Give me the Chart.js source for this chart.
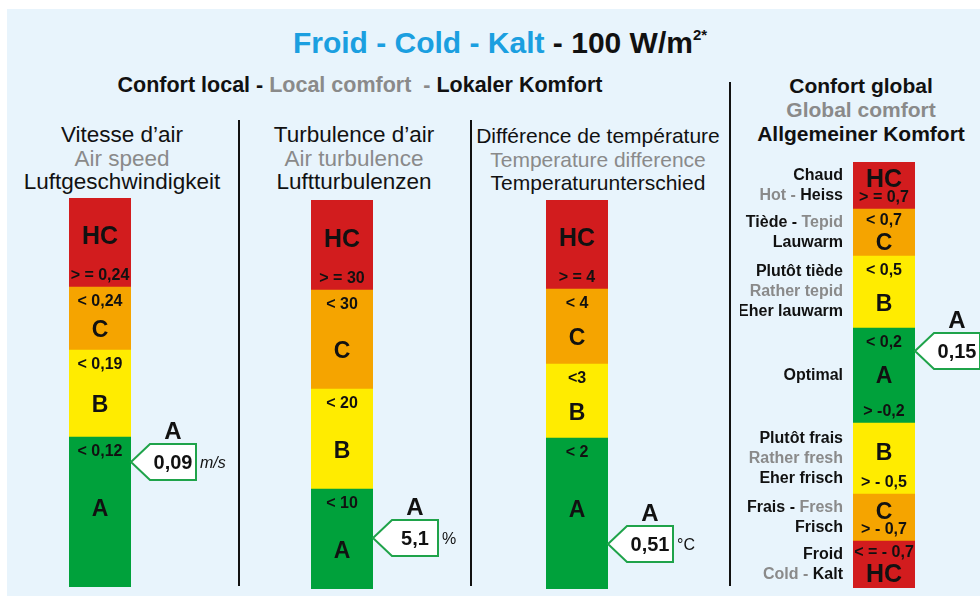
<!DOCTYPE html>
<html>
<head>
<meta charset="utf-8">
<script src="https://cdn.jsdelivr.net/npm/chart.js@4.4.0/dist/chart.umd.min.js"></script>
<style>
  body { margin: 0; width: 980px; height: 596px; background: #fff; position: relative; overflow: hidden;
         font-family: "Liberation Sans", Arial, sans-serif; }
  #panel { position: absolute; left: 7px; top: 9px; width: 973px; height: 587px; background: #e8f4fc; }
  .t { position: absolute; white-space: nowrap; text-align: center; line-height: 1; color: #111; }
  .g { color: #8a8a8a; }
  .b { font-weight: bold; }
  .vl { position: absolute; width: 2px; background: #111; }
  canvas { position: absolute; }
</style>
</head>
<body>
<div id="panel"></div>

<!-- titles -->
<div class="t b" style="left:200px;width:600px;top:28px;font-size:30px;"><span style="color:#1b9fe0">Froid - Cold - Kalt</span> - 100 W/m<span style="font-size:15px;position:relative;top:-13px">2*</span></div>
<div class="t b" style="left:110px;width:500px;top:75px;font-size:21.5px;">Confort local - <span class="g">Local comfort</span>&nbsp; <span class="g">-</span> Lokaler Komfort</div>

<div class="t" style="left:-28px;width:300px;top:124px;font-size:22.5px;">Vitesse d’air</div>
<div class="t g" style="left:-28px;width:300px;top:148px;font-size:22.5px;">Air speed</div>
<div class="t" style="left:-28px;width:300px;top:171px;font-size:22.5px;">Luftgeschwindigkeit</div>

<div class="t" style="left:204px;width:300px;top:124px;font-size:22.5px;">Turbulence d’air</div>
<div class="t g" style="left:204px;width:300px;top:148px;font-size:22.5px;">Air turbulence</div>
<div class="t" style="left:204px;width:300px;top:171px;font-size:22.5px;">Luftturbulenzen</div>

<div class="t" style="left:448px;width:300px;top:125px;font-size:21px;">Différence de température</div>
<div class="t g" style="left:448px;width:300px;top:149px;font-size:21px;">Temperature difference</div>
<div class="t" style="left:448px;width:300px;top:172px;font-size:21px;">Temperaturunterschied</div>

<div class="t b" style="left:711px;width:300px;top:75px;font-size:21px;">Confort global</div>
<div class="t b g" style="left:711px;width:300px;top:99px;font-size:21px;">Global comfort</div>
<div class="t b" style="left:711px;width:300px;top:123px;font-size:21px;">Allgemeiner Komfort</div>

<div class="vl" style="left:238px;top:120px;height:466px;"></div>
<div class="vl" style="left:470px;top:120px;height:466px;"></div>
<div class="vl" style="left:729px;top:82px;height:504px;"></div>

<canvas id="speed" width="170" height="389" style="left:69px;top:198px;"></canvas>
<canvas id="turb" width="160" height="389" style="left:311px;top:200px;"></canvas>
<canvas id="temp" width="180" height="389" style="left:546px;top:200px;"></canvas>
<canvas id="global" width="240" height="426" style="left:740px;top:162px;"></canvas>

<script>
// band sizes are listed from the bottom of each bar to the top
const speedBands = [150, 87, 63, 89];
const speedClasses = ['A', 'B', 'C', 'HC'];
const speedTop = ['< 0,12', '< 0,19', '< 0,24', ''];
const speedBottom = ['', '', '', '> = 0,24'];

const turbBands = [100, 100, 99, 90];
const turbClasses = ['A', 'B', 'C', 'HC'];
const turbTop = ['< 10', '< 20', '< 30', ''];
const turbBottom = ['', '', '', '> = 30'];

const tempBands = [151, 74, 75, 89];
const tempClasses = ['A', 'B', 'C', 'HC'];
const tempTop = ['< 2', '<3', '< 4', ''];
const tempBottom = ['', '', '', '> = 4'];

const globalBands = [47, 47, 71, 95, 72, 47, 47];
const globalClasses = ['HC', 'C', 'B', 'A', 'B', 'C', 'HC'];
const globalTop = ['< = - 0,7', '', '', '< 0,2', '< 0,5', '< 0,7', ''];
const globalBottom = ['', '> - 0,7', '> - 0,5', '> -0,2', '', '', '> = 0,7'];
// [text, grey?] parts per line
const globalNames = [
  [[['Froid', 0]], [['Cold - ', 1], ['Kalt', 0]]],
  [[['Frais - ', 0], ['Fresh', 1]], [['Frisch', 0]]],
  [[['Plutôt frais', 0]], [['Rather fresh', 1]], [['Eher frisch', 0]]],
  [[['Optimal', 0]]],
  [[['Plutôt tiède', 0]], [['Rather tepid', 1]], [['Eher lauwarm', 0]]],
  [[['Tiède - ', 0], ['Tepid', 1]], [['Lauwarm', 0]]],
  [[['Chaud', 0]], [['Hot - ', 1], ['Heiss', 0]]]
];

// measured values, on the same band scale
const measuredPos = [125, 51, 45, 237];
const measuredText = ['0,09', '5,1', '0,51', '0,15'];
const measuredClass = ['A', 'A', 'A', 'A'];
const measuredUnit = ['m/s', '%', '°C', ''];

const COLORS = { HC: '#d21c1e', C: '#f5a400', B: '#ffec00', A: '#00a13b' };
const FONT = '"Liberation Sans", Arial, sans-serif';

function bandPlugin(cfg) {
  return {
    id: 'bandLabels',
    afterDatasetsDraw(chart) {
      const ctx = chart.ctx;
      const area = chart.chartArea;
      ctx.save();
      ctx.textAlign = 'center';
      ctx.textBaseline = 'middle';
      ctx.fillStyle = '#111';
      cfg.bands.forEach((v, i) => {
        const bar = chart.getDatasetMeta(i).data[0];
        const top = bar.y, bottom = bar.base, h = bottom - top;
        let a = top + 12, b = bottom;
        ctx.font = 'bold 16px ' + FONT;
        if (cfg.top[i]) {
          const off = Math.min(15, h * 0.25);
          ctx.fillText(cfg.top[i], bar.x, top + off);
          a = top + off + 10;
        }
        if (cfg.bottom[i]) {
          ctx.fillText(cfg.bottom[i], bar.x, bottom - 11);
          b = bottom - 22;
        }
        const cls = cfg.classes[i];
        ctx.font = 'bold ' + (cls === 'HC' ? 25 : 23) + 'px ' + FONT;
        ctx.fillText(cls, bar.x, a + Math.min((b - a) / 2, 48));

        if (cfg.names) {
          const lines = cfg.names[i];
          const mid = (top + bottom) / 2;
          ctx.font = 'bold 16px ' + FONT;
          ctx.textAlign = 'left';
          lines.forEach((parts, j) => {
            const y = mid + (j - (lines.length - 1) / 2) * 20;
            const w = parts.reduce((s, p) => s + ctx.measureText(p[0]).width, 0);
            let x = area.left - 10 - w;
            parts.forEach(p => {
              ctx.fillStyle = p[1] ? '#8a8a8a' : '#111';
              ctx.fillText(p[0], x, y);
              x += ctx.measureText(p[0]).width;
            });
          });
          ctx.textAlign = 'center';
          ctx.fillStyle = '#111';
        }
      });

      // measured value callout
      const k = cfg.idx;
      const ty = chart.scales.y.getPixelForValue(measuredPos[k]);
      const tx = area.right;
      const bx = tx + 19, bw = 46, bh = 36;
      ctx.beginPath();
      ctx.moveTo(tx, ty);
      ctx.lineTo(bx, ty - bh / 2);
      ctx.lineTo(bx + bw, ty - bh / 2);
      ctx.lineTo(bx + bw, ty + bh / 2);
      ctx.lineTo(bx, ty + bh / 2);
      ctx.closePath();
      ctx.fillStyle = '#fff';
      ctx.fill();
      ctx.strokeStyle = '#1fa34a';
      ctx.lineWidth = 2;
      ctx.stroke();
      ctx.fillStyle = '#111';
      ctx.font = 'bold 20px ' + FONT;
      ctx.fillText(measuredText[k], bx + bw / 2, ty + 1);
      ctx.font = 'bold 24px ' + FONT;
      ctx.fillText(measuredClass[k], bx + bw / 2, ty - bh / 2 - 12);
      if (measuredUnit[k]) {
        ctx.textAlign = 'left';
        ctx.font = (k === 0 ? 'italic ' : '') + '16px ' + FONT;
        ctx.fillText(measuredUnit[k], bx + bw + 4, ty + 2);
      }
      ctx.restore();
    }
  };
}

function makeBar(id, cfg, padding) {
  const ctx = document.getElementById(id).getContext('2d');
  return new Chart(ctx, {
    type: 'bar',
    data: {
      labels: [''],
      datasets: cfg.bands.map((v, i) => ({
        data: [v],
        backgroundColor: COLORS[cfg.classes[i]],
        borderWidth: 0,
        barPercentage: 1,
        categoryPercentage: 1
      }))
    },
    options: {
      responsive: false,
      animation: false,
      devicePixelRatio: 1,
      layout: { padding: padding },
      plugins: { legend: { display: false }, tooltip: { enabled: false } },
      scales: {
        x: { display: false, stacked: true },
        y: { display: false, stacked: true, min: 0, max: cfg.bands.reduce((s, v) => s + v, 0) }
      }
    },
    plugins: [bandPlugin(cfg)]
  });
}

makeBar('speed', { idx: 0, bands: speedBands, classes: speedClasses, top: speedTop, bottom: speedBottom },
  { left: 0, right: 108, top: 0, bottom: 0 });
makeBar('turb', { idx: 1, bands: turbBands, classes: turbClasses, top: turbTop, bottom: turbBottom },
  { left: 0, right: 98, top: 0, bottom: 0 });
makeBar('temp', { idx: 2, bands: tempBands, classes: tempClasses, top: tempTop, bottom: tempBottom },
  { left: 0, right: 118, top: 0, bottom: 0 });
makeBar('global', { idx: 3, bands: globalBands, classes: globalClasses, top: globalTop, bottom: globalBottom, names: globalNames },
  { left: 113, right: 65, top: 0, bottom: 0 });
</script>
</body>
</html>
